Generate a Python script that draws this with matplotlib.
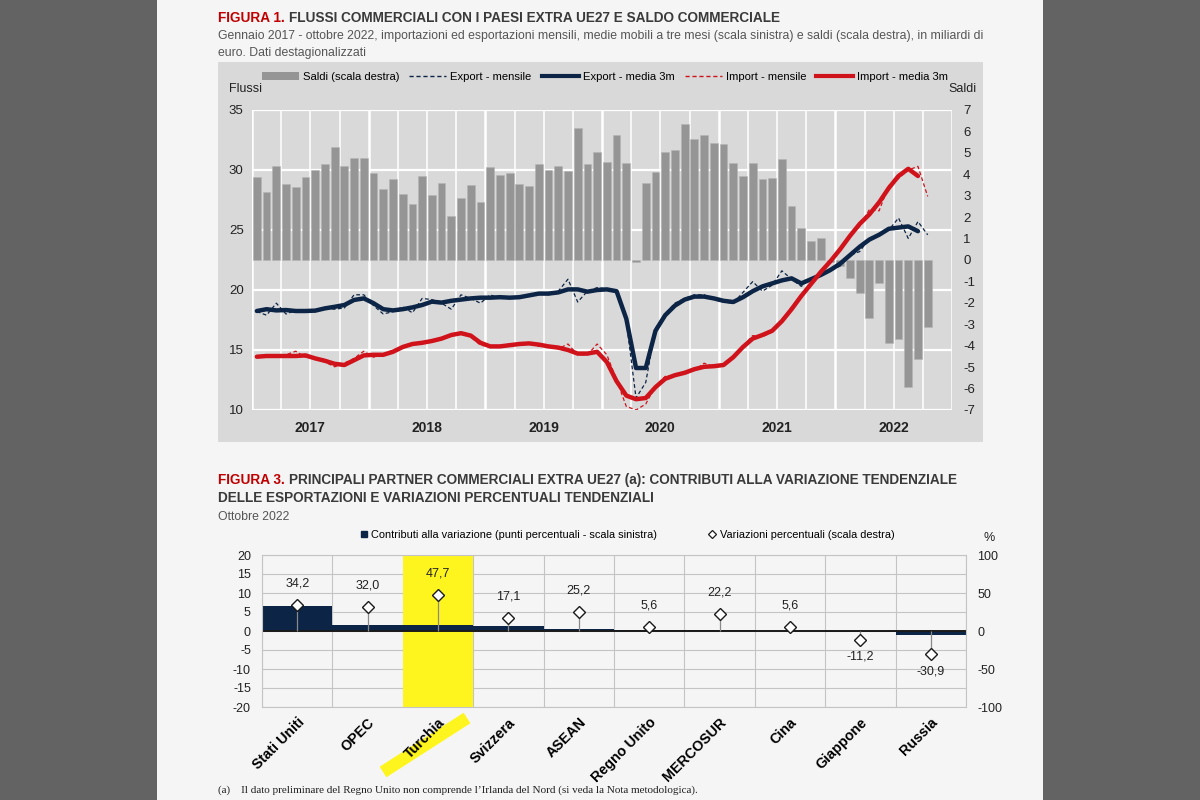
import matplotlib.pyplot as plt
from matplotlib.patches import Rectangle, Patch
from matplotlib.lines import Line2D
import numpy as np

# ---- Figura 1: gennaio 2017 - ottobre 2022 (mensile)
years = ['2017', '2018', '2019', '2020', '2021', '2022']

saldi = [3.89, 3.19, 4.39, 3.55, 3.42, 3.89, 4.2, 4.46, 5.29, 4.39, 4.74, 4.78,
         4.08, 3.3, 3.77, 3.08, 2.61, 3.92, 3.03, 3.61, 2.07, 2.91, 3.5, 2.72,
         4.32, 3.97, 4.04, 3.55, 3.47, 4.48, 4.2, 4.39, 4.17, 6.14, 4.46, 5.05,
         4.59, 5.83, 4.51, -0.08, 3.6, 4.1, 5.05, 5.15, 6.35, 5.65, 5.85, 5.44,
         5.41, 4.55, 3.93, 4.51, 3.78, 3.84, 4.7, 2.53, 1.49, 0.89, 1.03, -0.1,
         -0.3, -0.86, -1.56, -2.72, -1.06, -3.89, -3.7, -5.94, -4.64, -3.11]

export_m = [18.2, 17.9, 18.9, 18.0, 18.3, 18.3, 18.2, 18.5, 18.4, 18.5, 19.6, 19.6,
            18.7, 18.0, 18.2, 18.6, 18.1, 19.3, 19.2, 18.9, 18.4, 19.6, 19.3, 18.9,
            19.6, 19.3, 19.4, 19.4, 19.6, 19.8, 19.6, 19.9, 20.9, 19.0, 19.9, 20.2,
            20.1, 20.0, 17.4, 11.0, 12.3, 16.8, 18.0, 18.9, 19.3, 19.6, 19.6, 19.2,
            19.0, 18.9, 19.8, 20.7, 19.9, 20.4, 21.6, 20.9, 20.3, 21.0, 21.3, 21.6,
            22.0, 22.9, 23.2, 24.3, 24.7, 25.0, 26.0, 24.3, 25.7, 24.6]

export_3m = [18.25, 18.4, 18.3, 18.33, 18.25, 18.25, 18.28, 18.47, 18.6, 18.75, 19.17, 19.3,
             18.9, 18.4, 18.3, 18.4, 18.55, 18.75, 19.03, 18.95, 19.1, 19.2, 19.3, 19.36,
             19.36, 19.4, 19.36, 19.4, 19.55, 19.7, 19.7, 19.8, 20.05, 20.05, 19.86, 20.0,
             20.05, 19.9, 17.6, 13.5, 13.5, 16.6, 17.9, 18.7, 19.2, 19.45, 19.45, 19.3,
             19.1, 19.0, 19.4, 19.9, 20.3, 20.55, 20.8, 20.97, 20.55, 20.9, 21.25, 21.67,
             22.2, 22.9, 23.6, 24.2, 24.6, 25.1, 25.2, 25.3, 24.9, np.nan]

import_m = [14.4, 14.5, 14.4, 14.6, 14.9, 14.4, 14.3, 14.0, 13.6, 13.9, 14.3, 14.9,
            14.4, 14.6, 15.0, 15.3, 15.4, 15.7, 15.8, 16.0, 16.3, 16.5, 16.1, 15.4,
            15.3, 15.3, 15.5, 15.5, 15.6, 15.3, 15.3, 15.1, 15.5, 14.6, 14.6, 15.5,
            14.6, 12.5, 10.3, 10.0, 10.5, 12.0, 12.8, 12.9, 13.2, 13.3, 13.9, 13.6,
            13.7, 14.3, 15.3, 16.2, 16.1, 16.5, 17.4, 18.6, 19.6, 20.4, 21.6, 22.5,
            23.4, 24.6, 25.3, 26.7, 26.6, 28.7, 29.3, 30.0, 30.3, 27.8]

import_3m = [14.44, 14.5, 14.5, 14.5, 14.5, 14.55, 14.3, 14.1, 13.85, 13.75, 14.15, 14.55,
             14.6, 14.6, 14.85, 15.25, 15.5, 15.6, 15.75, 15.95, 16.25, 16.4, 16.2, 15.6,
             15.3, 15.3, 15.4, 15.5, 15.55, 15.45, 15.3, 15.2, 15.0, 14.7, 14.7, 14.85,
             14.0, 12.4, 11.2, 10.9, 11.0, 11.9, 12.6, 12.9, 13.1, 13.4, 13.6, 13.65,
             13.75, 14.4, 15.25, 15.95, 16.25, 16.6, 17.4, 18.4, 19.5, 20.5, 21.5, 22.4,
             23.4, 24.5, 25.5, 26.3, 27.3, 28.5, 29.5, 30.1, 29.5, np.nan]

# ---- Figura 3: ottobre 2022
partners = ['Stati Uniti', 'OPEC', 'Turchia', 'Svizzera', 'ASEAN',
            'Regno Unito', 'MERCOSUR', 'Cina', 'Giappone', 'Russia']
contributi = [6.5, 1.7, 1.6, 1.4, 0.5, 0.2, 0.3, 0.1, -0.2, -1.0]
variazioni = [34.2, 32.0, 47.7, 17.1, 25.2, 5.6, 22.2, 5.6, -11.2, -30.9]

plt.rcParams['font.family'] = ['Liberation Sans', 'DejaVu Sans']
plt.rcParams['axes.unicode_minus'] = False

RED = '#c00000'
NAVY = '#0c2445'
IMPRED = '#d0121b'
TXT = '#3a3a3a'
PANEL = '#d9d9d9'
PAGE = '#f5f5f5'

W, H = 1200, 800
fig = plt.figure(figsize=(12, 8), dpi=100)
fig.patch.set_facecolor('#636363')


def fx(x):
    return x / W


def fy(y):
    return 1 - y / H


def rect(x0, y0, x1, y1):
    return [fx(x0), fy(y1), (x1 - x0) / W, (y1 - y0) / H]


# page and grey panel (behind the axes)
fig.patches.append(Rectangle((fx(157), 0), fx(1043) - fx(157), 1, transform=fig.transFigure,
                             facecolor=PAGE, edgecolor='none', zorder=-10))
fig.patches.append(Rectangle((fx(218), fy(442)), fx(983) - fx(218), fy(62) - fy(442),
                             transform=fig.transFigure, facecolor=PANEL, edgecolor='none', zorder=-9))

renderer = fig.canvas.get_renderer()


def two_color(x, y, red_part, rest, size):
    t = fig.text(fx(x), fy(y), red_part, color=RED, fontsize=size, fontweight='bold', va='baseline')
    bb = t.get_window_extent(renderer)
    fig.text(bb.x1 / W + 4 / W, fy(y), rest, color=TXT, fontsize=size, fontweight='bold', va='baseline')


# ---- titles figura 1
two_color(218, 22, 'FIGURA 1.', 'FLUSSI COMMERCIALI CON I PAESI EXTRA UE27 E SALDO COMMERCIALE', 9.8)
fig.text(fx(218), fy(39), 'Gennaio 2017 - ottobre 2022, importazioni ed esportazioni mensili, medie mobili a tre mesi '
         '(scala sinistra) e saldi (scala destra), in miliardi di', color='#555555', fontsize=8.8, va='baseline')
fig.text(fx(218), fy(56), 'euro. Dati destagionalizzati', color='#555555', fontsize=8.8, va='baseline')

# ---- top chart
ax = fig.add_axes(rect(252, 110, 952, 410))
ax.set_facecolor(PANEL)
months = np.arange(len(saldi)) + 0.5
ax.set_xlim(0, 72)
ax.set_ylim(-7, 7)

# grid (drawn behind the bars)
left_ticks = [10, 15, 20, 25, 30, 35]
for v in left_ticks:
    ax.axhline((v - 22.5) * 14 / 25, color='white', lw=1.6, zorder=0)
for q in range(0, 73, 3):
    ax.axvline(q, color='white', lw=1.8 if q % 12 == 0 else 1.1, zorder=0)

ax.bar(months, saldi, width=0.8, color='#959595', edgecolor='#b5b5b5', linewidth=0.4, zorder=1)

ax2 = ax.twinx()
ax2.set_ylim(10, 35)
ax2.set_xlim(0, 72)

# bars axis -> right scale, lines axis -> left scale
ax.yaxis.tick_right()
ax.set_yticks(range(-7, 8))
ax.tick_params(axis='y', length=0, pad=8, labelsize=9.5, labelcolor='#222222')
ax.set_xticks([6 + 12 * i for i in range(len(years))])
ax.set_xticklabels(years, fontweight='bold', fontsize=10)
ax.tick_params(axis='x', length=0, pad=8, labelcolor='#222222')
for s in ax.spines.values():
    s.set_visible(False)

ax2.yaxis.tick_left()
ax2.set_yticks(left_ticks)
ax2.tick_params(axis='y', length=0, pad=6, labelsize=9.5, labelcolor='#222222')
for s in ax2.spines.values():
    s.set_visible(False)

ax2.plot(months, export_m, color=NAVY, lw=0.9, ls=(0, (3, 2)))
ax2.plot(months, import_m, color=IMPRED, lw=0.9, ls=(0, (3, 2)))
ax2.plot(months, export_3m, color=NAVY, lw=3.2, solid_capstyle='round')
ax2.plot(months, import_3m, color=IMPRED, lw=3.2, solid_capstyle='round')

fig.text(fx(229), fy(92), 'Flussi', fontsize=9, color='#222222')
fig.text(fx(948), fy(92), 'Saldi', fontsize=9, color='#222222')

handles = [Patch(facecolor='#959595', edgecolor='none'),
           Line2D([], [], color=NAVY, lw=1, ls=(0, (3, 2))),
           Line2D([], [], color=NAVY, lw=3),
           Line2D([], [], color=IMPRED, lw=1, ls=(0, (3, 2))),
           Line2D([], [], color=IMPRED, lw=3)]
labels = ['Saldi (scala destra)', 'Export - mensile', 'Export - media 3m',
          'Import - mensile', 'Import - media 3m']
fig.legend(handles, labels, loc='center', bbox_to_anchor=(fx(605), fy(77)), ncol=5, frameon=False,
           fontsize=8.1, handlelength=3.3, handleheight=0.7, columnspacing=0.9, handletextpad=0.35)

# ---- titles figura 3
two_color(218, 484, 'FIGURA 3.', 'PRINCIPALI PARTNER COMMERCIALI EXTRA UE27 (a): CONTRIBUTI ALLA VARIAZIONE TENDENZIALE', 9.8)
fig.text(fx(218), fy(502), 'DELLE ESPORTAZIONI E VARIAZIONI PERCENTUALI TENDENZIALI', color=TXT,
         fontsize=9.8, fontweight='bold', va='baseline')
fig.text(fx(218), fy(520), 'Ottobre 2022', color='#555555', fontsize=8.8, va='baseline')

# ---- bottom chart
bx = fig.add_axes(rect(262, 555, 966, 707))
bx.set_facecolor(PAGE)
pos = np.arange(len(partners))
bx.set_xlim(-0.5, len(partners) - 0.5)
bx.set_ylim(-20, 20)
for v in range(-20, 21, 5):
    bx.axhline(v, color='#c4c4c4', lw=0.8, zorder=0)
for b in np.arange(-0.5, len(partners), 1):
    bx.axvline(b, color='#c4c4c4', lw=0.8, zorder=0)
bx.axvspan(1.5, 2.5, color='#fff51e', zorder=1, lw=0)
bx.bar(pos, contributi, width=1.0, color=NAVY, zorder=2)
bx.axhline(0, color='#1a1a1a', lw=1.4, zorder=2.5)

bx2 = bx.twinx()
bx2.set_ylim(-100, 100)

bx.yaxis.tick_left()
bx.set_yticks(range(-20, 21, 5))
bx.set_xticks(pos)
bx.set_xticklabels(partners, rotation=45, ha='right', rotation_mode='anchor',
                   fontweight='bold', fontsize=10.3)
bx.tick_params(axis='x', length=0, pad=6)
bx.tick_params(axis='y', length=0, pad=8, labelsize=9, labelcolor='#222222')
for s in bx.spines.values():
    s.set_color('#c4c4c4')
    s.set_linewidth(0.8)

bx2.yaxis.tick_right()
bx2.set_yticks([-100, -50, 0, 50, 100])
bx2.tick_params(axis='y', length=0, pad=8, labelsize=9, labelcolor='#222222')
for s in bx2.spines.values():
    s.set_visible(False)
bx2.vlines(pos, 0, variazioni, color='#8a8a8a', lw=0.9, zorder=3)
bx2.plot(pos, variazioni, ls='none', marker='D', ms=6.5, mfc='white', mec='#1a1a1a', mew=1.0, zorder=4)
for p, v in zip(pos, variazioni):
    lab = f'{v:.1f}'.replace('.', ',')
    if v >= 0:
        bx2.annotate(lab, (p, v), xytext=(0, 11), textcoords='offset points', ha='center',
                     va='bottom', fontsize=9, color='#222222')
    else:
        bx2.annotate(lab, (p, v), xytext=(0, -8), textcoords='offset points', ha='center',
                     va='top', fontsize=9, color='#222222')

fig.text(fx(983), fy(541), '%', fontsize=9, color='#222222')

bhandles = [Line2D([], [], ls='none', marker='s', ms=4.5, color=NAVY),
            Line2D([], [], ls='none', marker='D', ms=4.5, mfc='white', mec='#1a1a1a', mew=0.9)]
blabels = ['Contributi alla variazione (punti percentuali - scala sinistra)',
           'Variazioni percentuali (scala destra)']
fig.legend(bhandles, blabels, loc='center', bbox_to_anchor=(fx(627), fy(535)), ncol=2, frameon=False,
           fontsize=7.9, handlelength=0.8, handletextpad=0.3, columnspacing=4.6)

# yellow highlighter stroke under "Turchia"
fig.add_artist(Line2D([fx(383), fx(467)], [fy(772), fy(718)], color='#fff51e', lw=9,
                      solid_capstyle='butt', zorder=-5))

fig.text(fx(218), fy(793), '(a)    Il dato preliminare del Regno Unito non comprende l\u2019Irlanda del Nord '
         '(si veda la Nota metodologica).', family=['Liberation Serif', 'DejaVu Serif'],
         fontsize=8, color='#222222', va='baseline')

fig.savefig('out.png', dpi=100, facecolor=fig.get_facecolor())
